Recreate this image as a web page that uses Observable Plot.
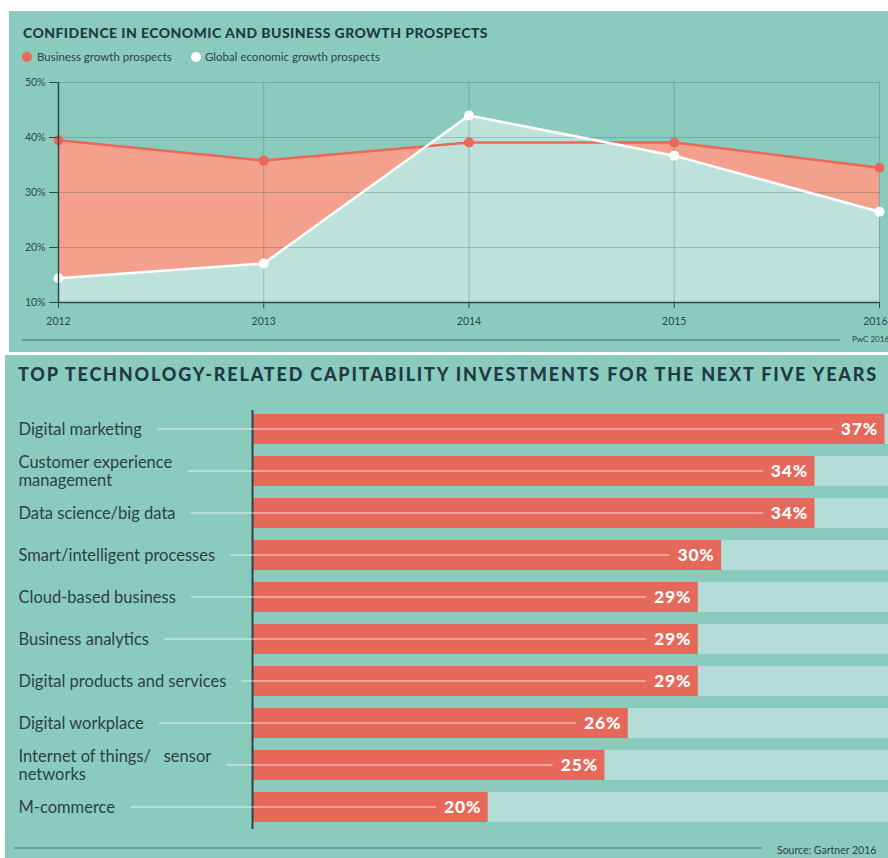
<!DOCTYPE html>
<html>
<head>
<meta charset="utf-8">
<script src="https://cdn.jsdelivr.net/npm/d3@7"></script>
<script src="https://cdn.jsdelivr.net/npm/@observablehq/plot@0.6"></script>
<style>
  html, body { margin: 0; padding: 0; background: #ffffff; }
  body { width: 888px; height: 858px; position: relative; overflow: hidden; font-family: Lato, "Open Sans", sans-serif; }
  .panel { position: absolute; background: #8bcbbe; }
  .abs { position: absolute; white-space: nowrap; }
  .title { font-weight: 900; color: #1e3a44; }
  .legend { font-size: 11.5px; line-height: 13px; color: #2b4347; }
  .dot { position: absolute; width: 10px; height: 10px; border-radius: 50%; }
  .cap { font-size: 8px; color: #2b4347; }
  .rule { position: absolute; background: #5f9f96; }
</style>
</head>
<body>
<div class="panel" style="left:9px; top:11px; width:879px; height:341px;"></div>
<div class="panel" style="left:5px; top:355px; width:883px; height:503px;"></div>

<div id="title1" class="abs title" style="left:23px; top:26px; font-size:14px; line-height:14px;">CONFIDENCE IN ECONOMIC AND BUSINESS GROWTH PROSPECTS</div>
<div class="dot" style="left:22px; top:52px; background:#e8685a;"></div>
<div class="abs legend" style="left:37px; top:50px;">Business growth prospects</div>
<div class="dot" style="left:191px; top:52px; background:#ffffff;"></div>
<div class="abs legend" style="left:205px; top:50px;">Global economic growth prospects</div>

<div id="chart1" class="abs" style="left:0px; top:70px;"></div>
<div class="rule" style="left:22px; top:339px; width:818px; height:1.5px;"></div>
<div class="abs cap" style="left:852px; top:335px; line-height:9px;">PwC 2016</div>

<div id="title2" class="abs title" style="left:18px; top:365px; font-size:18px; line-height:18px;">TOP TECHNOLOGY-RELATED CAPITABILITY INVESTMENTS FOR THE NEXT FIVE YEARS</div>
<div id="chart2" class="abs" style="left:0px; top:395px;"></div>
<div class="rule" style="left:14px; top:847px; width:748px; height:2px;"></div>
<div class="abs cap" style="left:777px; top:844px; font-size:10.5px; line-height:12px;">Source: Gartner 2016</div>

<script>
// ---------- DATA ----------
const years = [2012, 2013, 2014, 2015, 2016];
const businessGrowth = [39.5, 35.8, 39.1, 39.1, 34.5];
const globalGrowth = [14.4, 17.1, 44.0, 36.7, 26.5];
const yTicks = [10, 20, 30, 40, 50];

const categories = [
  "Digital marketing",
  "Customer experience\nmanagement",
  "Data science/big data",
  "Smart/intelligent processes",
  "Cloud-based business",
  "Business analytics",
  "Digital products and services",
  "Digital workplace",
  "Internet of things/   sensor\nnetworks",
  "M-commerce"
];
const shares = [37, 34, 34, 30, 29, 29, 29, 26, 25, 20];

// ---------- TOP CHART ----------
const rows1 = years.map((year, i) => ({year, business: businessGrowth[i], global: globalGrowth[i]}));
const dark = "#2c474b";
const red = "#e8685a";

const chart1 = Plot.plot({
  width: 888,
  height: 280,
  marginLeft: 58,
  marginRight: 9,
  marginTop: 12,
  marginBottom: 48,
  style: {background: "transparent", fontFamily: "Lato, sans-serif", fontSize: "10.5px", color: dark, overflow: "visible"},
  x: {domain: [2012, 2016], label: null},
  y: {domain: [10, 50], label: null},
  marks: [
    Plot.areaY(rows1, {x: "year", y1: 10, y2: "business", fill: "#f3a18c"}),
    Plot.areaY(rows1, {x: "year", y1: 10, y2: "global", fill: "#bde2dc"}),
    Plot.gridY(yTicks.slice(1), {stroke: "#2f5e5a", strokeOpacity: 0.35, strokeWidth: 0.8}),
    Plot.gridX(years.slice(1), {stroke: "#2f5e5a", strokeOpacity: 0.35, strokeWidth: 0.8}),
    Plot.lineY(rows1, {x: "year", y: "business", stroke: red, strokeWidth: 2.5}),
    Plot.lineY(rows1, {x: "year", y: "global", stroke: "#ffffff", strokeWidth: 2.5}),
    Plot.dot(rows1, {x: "year", y: "business", r: 5, fill: red}),
    Plot.dot(rows1, {x: "year", y: "global", r: 5, fill: "#ffffff"}),
    Plot.axisY(yTicks, {label: null, tickSize: 9, tickPadding: 4, tickFormat: d => d + "%", stroke: dark, fill: dark}),
    Plot.axisX(years, {label: null, tickSize: 6, tickPadding: 9, tickFormat: d => String(d), stroke: dark, fill: dark}),
    Plot.ruleX([2012], {stroke: dark, strokeWidth: 1.5}),
    Plot.ruleY([10], {stroke: dark, strokeWidth: 1.5})
  ]
});
document.getElementById("chart1").append(chart1);

// keep the last year label inside the picture (right-aligned on its tick)
(function () {
  const texts = chart1.querySelectorAll('g[aria-label="x-axis tick label"] text');
  if (texts.length) {
    const last = texts[texts.length - 1];
    last.setAttribute("text-anchor", "end");
    last.setAttribute("dx", "8");
  }
})();

// ---------- BOTTOM CHART ----------
const rows2 = categories.map((cat, i) => ({cat, share: shares[i]}));
const xMin = 9.9, xMax = 37.15;

const chart2 = Plot.plot({
  width: 888,
  height: 445,
  marginLeft: 252,
  marginRight: 0,
  marginTop: 12,
  marginBottom: 11,
  style: {background: "transparent", fontFamily: "Lato, sans-serif", overflow: "visible"},
  x: {domain: [xMin, xMax], axis: null},
  y: {domain: categories, paddingInner: 0.28, paddingOuter: 0.14, axis: null},
  marks: [
    Plot.barX(rows2, {y: "cat", x1: xMin, x2: xMax, fill: "#b5ddd7"}),
    Plot.barX(rows2, {y: "cat", x1: xMin, x2: "share", fill: "#e6685a"}),
    Plot.ruleX([xMin], {stroke: "#2c4347", strokeWidth: 2, insetTop: 3}),
    Plot.text(rows2, {y: "cat", text: "cat", frameAnchor: "left", textAnchor: "start", dx: -234, fontSize: 16.5, lineHeight: 1.07, fill: "#2b4146"}),
    Plot.text(rows2, {y: "cat", x: "share", text: d => d.share + "%", textAnchor: "end", dx: -7, fontSize: 17.5, fontWeight: 900, fill: "#ffffff"})
  ]
});
document.getElementById("chart2").append(chart2);

// leader lines between category labels and value labels
(function () {
  const ns = "http://www.w3.org/2000/svg";
  const yScale = chart2.scale("y");
  const groups = chart2.querySelectorAll('g[aria-label="text"]');
  if (groups.length < 2) return;
  const catTexts = groups[0].querySelectorAll(":scope > text");
  const valGroup = groups[1];
  valGroup.setAttribute("letter-spacing", "0.8");
  const valTexts = valGroup.querySelectorAll(":scope > text");
  const svgLeft = chart2.getBoundingClientRect().left;
  const g = document.createElementNS(ns, "g");
  g.setAttribute("aria-label", "leaders");
  catTexts.forEach((t, i) => {
    const b = t.getBoundingClientRect();
    const v = valTexts[i].getBoundingClientRect();
    const y = yScale.apply(rows2[i].cat) + yScale.bandwidth / 2;
    const line = document.createElementNS(ns, "line");
    line.setAttribute("x1", b.right - svgLeft + 15);
    line.setAttribute("x2", v.left - svgLeft - 8);
    line.setAttribute("y1", y);
    line.setAttribute("y2", y);
    line.setAttribute("stroke", "#ffffff");
    line.setAttribute("stroke-opacity", "0.5");
    line.setAttribute("stroke-width", "1.5");
    g.append(line);
  });
  valGroup.parentNode.insertBefore(g, valGroup);
})();

// fit titles to reference widths
function fit(id, target) {
  const el = document.getElementById(id);
  const n = el.textContent.length;
  const w = el.getBoundingClientRect().width;
  el.style.letterSpacing = ((target - w) / n) + "px";
}
fit("title1", 465);
fit("title2", 860);
</script>
</body>
</html>
